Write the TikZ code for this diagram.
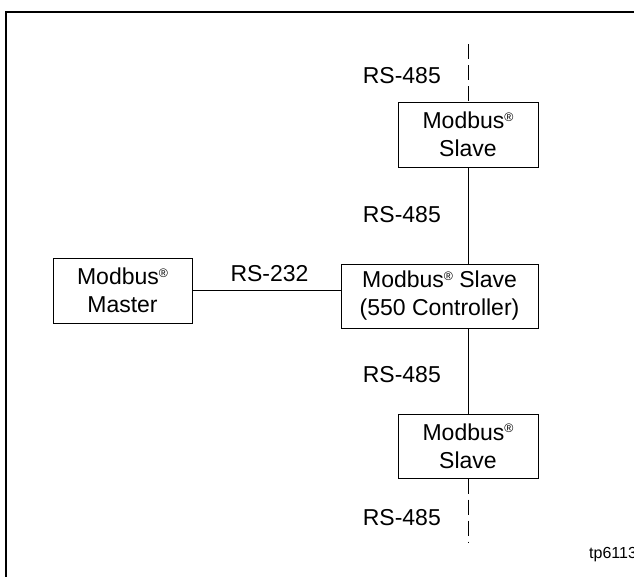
\documentclass[tikz,border=0pt]{standalone}
\usepackage{fontspec}
\setmainfont{Liberation Sans}
\newcommand{\regmark}{\raisebox{7.3pt}{\fontsize{12.3}{12.3}\selectfont\textregistered}}
\begin{document}
\begin{tikzpicture}[x=1pt,y=-1pt,
  box/.style={draw, line width=1pt, align=center, inner sep=0pt,
    font=\fontsize{23}{28}\selectfont},
  lbl/.style={font=\fontsize{23}{28}\selectfont, inner sep=0pt},
  conn/.style={line width=1pt},
  dconn/.style={line width=1pt, dash pattern=on 15pt off 6pt}]
\useasboundingbox (0,0) rectangle (634,576);
\clip (0,0) rectangle (634,576);
\draw[line width=2pt] (6,590) -- (6,12) -- (650,12);

\node[box, minimum width=139pt, minimum height=65pt] (master) at (122.5,290.5) {Modbus\regmark\\Master};
\node[box, minimum width=197pt, minimum height=64pt] (main) at (439.5,296) {Modbus\regmark{} Slave\\(550 Controller)};
\node[box, minimum width=140pt, minimum height=65pt] (top) at (468,134.5) {Modbus\regmark\\Slave};
\node[box, minimum width=140pt, minimum height=64pt] (bot) at (468,446) {Modbus\regmark\\Slave};

\coordinate (tend) at (468,44);
\coordinate (bend) at (468,543);

\draw[conn] (master.east) -- (master.east -| main.west);
\draw[conn] (top.south) -- (top.south |- main.north);
\draw[conn] (bot.north |- main.south) -- (bot.north);
\draw[dconn] (tend) -- (top.north);
\draw[dconn] (bot.south) -- (bend);

\node[lbl, anchor=base east] (l1) at (441,83) {RS-485};
\node[lbl, anchor=base east] (l2) at (441,222) {RS-485};
\node[lbl, anchor=base] (l3) at (269.5,281) {RS-232};
\node[lbl, anchor=base east] (l4) at (441,382) {RS-485};
\node[lbl, anchor=base east] (l5) at (441,525) {RS-485};
\node[anchor=base west, inner sep=0pt, font=\fontsize{16}{18}\selectfont] (tp) at (589,558) {tp6113};
\end{tikzpicture}
\end{document}
